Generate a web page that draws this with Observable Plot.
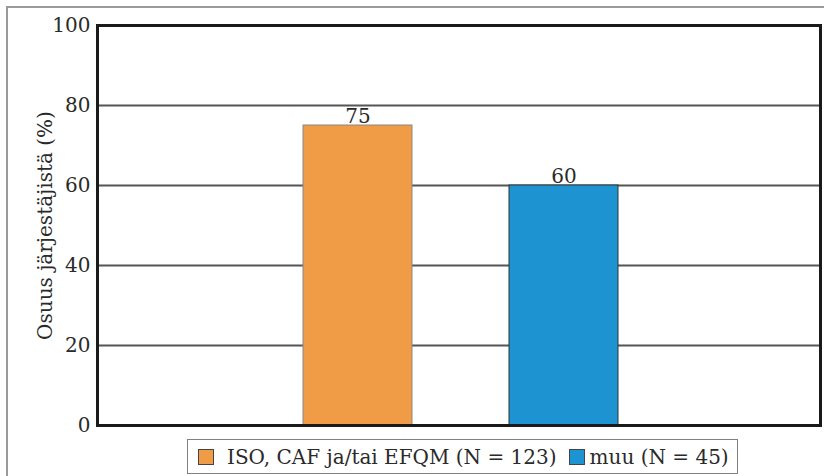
<!DOCTYPE html>
<html>
<head>
<meta charset="utf-8">
<script src="https://cdn.jsdelivr.net/npm/d3@7"></script>
<script src="https://cdn.jsdelivr.net/npm/@observablehq/plot@0.6"></script>
<style>
  body { margin: 0; background: #fff; font-family: "DejaVu Serif", serif; }
  #wrap { position: relative; width: 824px; height: 476px; overflow: hidden; }
  #outer { position: absolute; left: 6px; top: 6px; width: 900px; height: 600px;
           border-top: 2px solid #9a9a9a; border-left: 2px solid #9a9a9a; pointer-events: none; }
  #chart { position: absolute; left: 0; top: 0; }
  #legend { position: absolute; left: 187px; top: 439px; height: 33px; width: 549px;
            border: 1px solid #808080; box-sizing: content-box;
            display: flex; align-items: center; font-size: 20px; color: #2a2a2a; white-space: nowrap; }
  .item { display: flex; align-items: center; }
  .sw { width: 14px; height: 14px; border: 1px solid #444; }
</style>
</head>
<body>
<div id="wrap">
  <div id="outer"></div>
  <div id="chart"></div>
  <div id="legend"></div>
</div>
<script>
const categories = ["ISO, CAF ja/tai EFQM (N = 123)", "muu (N = 45)"];
const values = [75, 60];
const colors = ["#F09B45", "#1D93D1"];
const yTicks = [0, 20, 40, 60, 80, 100];
const gridTicks = [20, 40, 60, 80];
const yLabel = "Osuus järjestäjistä (%)";

const data = categories.map((c, i) => ({category: c, value: values[i], color: colors[i]}));

const chart = Plot.plot({
  width: 824,
  height: 442,
  marginTop: 25,
  marginLeft: 97,
  marginRight: 4,
  marginBottom: 17,
  style: {fontFamily: "DejaVu Serif, serif", fontSize: "20px", color: "#2a2a2a", background: "transparent"},
  x: {domain: categories, paddingInner: 0.471, paddingOuter: 0.99, align: 0.505, axis: null},
  y: {domain: [0, 100]},
  marks: [
    Plot.ruleY(gridTicks, {stroke: "#555", strokeWidth: 2}),
    Plot.barY(data, {x: "category", y: "value", fill: "color", stroke: d => d.value === 75 ? "#888" : "#333", strokeWidth: 1}),
    Plot.text(data, {x: "category", y: "value", text: d => String(d.value), lineAnchor: "bottom", dy: -3, fontSize: 20, fill: "#2a2a2a"}),
    Plot.axisY({ticks: yTicks, tickSize: 0, tickPadding: 7, fontSize: 20, label: yLabel, labelAnchor: "center", labelOffset: 60, labelArrow: "none"}),
    Plot.frame({stroke: "#1a1a1a", strokeWidth: 3})
  ]
});
document.getElementById("chart").appendChild(chart);

const legend = document.getElementById("legend");
const swMargins = [["10px", "13px"], ["12px", "5px"]];
data.forEach((d, i) => {
  const item = document.createElement("div");
  item.className = "item";
  const sw = document.createElement("div");
  sw.className = "sw";
  sw.style.background = d.color;
  sw.style.marginLeft = swMargins[i][0];
  sw.style.marginRight = swMargins[i][1];
  const t = document.createElement("span");
  t.textContent = d.category;
  item.appendChild(sw);
  item.appendChild(t);
  legend.appendChild(item);
});
</script>
</body>
</html>
